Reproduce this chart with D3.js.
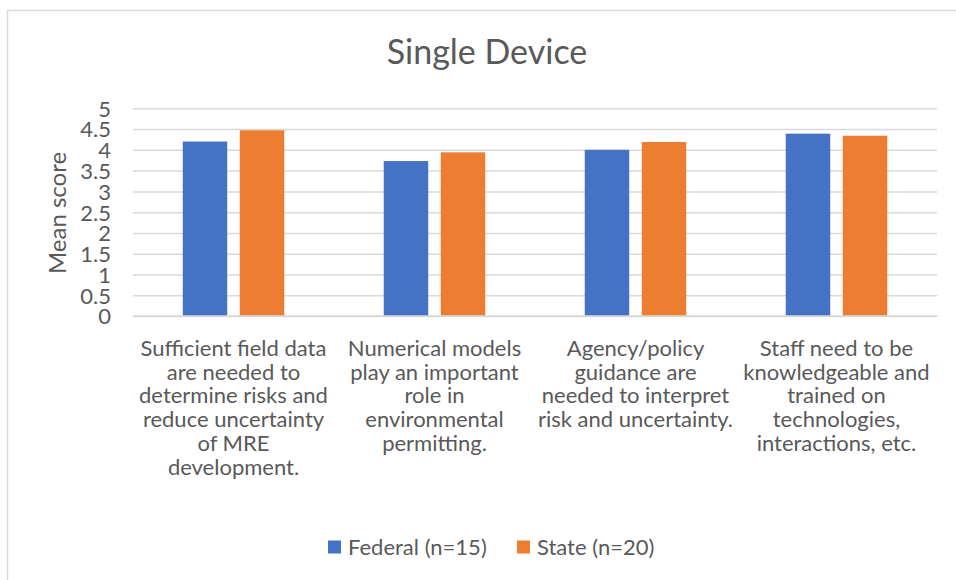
<!DOCTYPE html>
<html>
<head>
<meta charset="utf-8">
<script src="https://cdn.jsdelivr.net/npm/d3@7"></script>
<style>
  html, body { margin: 0; padding: 0; background: #fff; }
  svg { display: block; font-family: Lato, "Open Sans", sans-serif; }
</style>
</head>
<body>
<svg id="chart" width="956" height="580"></svg>
<script>
// ---- data ----
const title = "Single Device";
const yAxisTitle = "Mean score";
const categories = [
  "Sufficient field data\nare needed to\ndetermine risks and\nreduce uncertainty\nof MRE\ndevelopment.",
  "Numerical models\nplay an important\nrole in\nenvironmental\npermitting.",
  "Agency/policy\nguidance are\nneeded to interpret\nrisk and uncertainty.",
  "Staff need to be\nknowledgeable and\ntrained on\ntechnologies,\ninteractions, etc."
];
const seriesNames = ["Federal (n=15)", "State (n=20)"];
const federalValues = [4.2, 3.73, 4.0, 4.39];
const stateValues = [4.47, 3.94, 4.19, 4.34];
const yTicks = [0, 0.5, 1, 1.5, 2, 2.5, 3, 3.5, 4, 4.5, 5];
const seriesColors = ["#4472C4", "#ED7D31"];

// ---- layout ----
const W = 956, H = 580;
const plot = { left: 133, right: 937, top: 108.3, bottom: 316 };
const textColor = "#595959";
const gridColor = "#d9d9d9";
const fontSize = 22;

const svg = d3.select("#chart");

// chart border (extends beyond the visible frame on right/bottom)
svg.append("rect")
  .attr("x", 7.5).attr("y", 10.5)
  .attr("width", W + 20).attr("height", H + 20)
  .attr("fill", "#fff").attr("stroke", gridColor).attr("stroke-width", 1.5);

const x0 = d3.scaleBand().domain(categories).range([plot.left, plot.right]).padding(0);
const groupW = 101.5;
const x1 = d3.scaleBand().domain(seriesNames)
  .range([(x0.bandwidth() - groupW) / 2, (x0.bandwidth() + groupW) / 2])
  .paddingInner(0.22).paddingOuter(0);
const y = d3.scaleLinear().domain([0, 5]).range([plot.bottom, plot.top]);

// gridlines + tick labels
const yAxis = d3.axisLeft(y).tickValues(yTicks).tickSize(-(plot.right - plot.left)).tickPadding(22)
  .tickFormat(d => String(d));
const gy = svg.append("g").attr("transform", `translate(${plot.left},0)`).call(yAxis);
gy.select(".domain").remove();
gy.selectAll(".tick line").attr("stroke", gridColor).attr("stroke-width", 1.5);
gy.selectAll(".tick text").attr("fill", textColor).attr("font-size", fontSize)
  .attr("font-family", "Lato, sans-serif").attr("dy", "0.36em");

// bars
const rows = categories.map((c, i) => ({ cat: c, vals: [federalValues[i], stateValues[i]] }));
const groups = svg.append("g").selectAll("g").data(rows).join("g")
  .attr("transform", d => `translate(${x0(d.cat)},0)`);
groups.selectAll("rect")
  .data(d => d.vals.map((v, j) => ({ name: seriesNames[j], v, j })))
  .join("rect")
  .attr("x", d => x1(d.name))
  .attr("width", x1.bandwidth())
  .attr("y", d => y(d.v))
  .attr("height", d => y(0) - y(d.v))
  .attr("fill", d => seriesColors[d.j]);

// x axis baseline
svg.append("line").attr("x1", plot.left).attr("x2", plot.right)
  .attr("y1", y(0)).attr("y2", y(0)).attr("stroke", gridColor).attr("stroke-width", 1.5);

// category labels
const xAxis = d3.axisBottom(x0).tickSize(0).tickFormat("");
const gx = svg.append("g").attr("transform", `translate(0,${plot.bottom})`).call(xAxis);
gx.select(".domain").remove();
gx.selectAll(".tick").each(function(d) {
  const lines = d.split("\n");
  const t = d3.select(this).append("text")
    .attr("text-anchor", "middle").attr("fill", textColor)
    .attr("font-size", fontSize).attr("font-family", "Lato, sans-serif");
  lines.forEach((ln, i) => {
    t.append("tspan").attr("x", 0).attr("y", 40 + i * 23.7).text(ln);
  });
});

// title
svg.append("text").attr("x", 487).attr("y", 64).attr("text-anchor", "middle")
  .attr("fill", textColor).attr("font-size", 34).text(title);

// y axis title
svg.append("text").attr("transform", `translate(66,213) rotate(-90)`)
  .attr("text-anchor", "middle").attr("fill", textColor).attr("font-size", 24)
  .text(yAxisTitle);

// legend
const legend = svg.append("g");
const legendX = [328, 517];
seriesNames.forEach((n, i) => {
  legend.append("rect").attr("x", legendX[i]).attr("y", 540.5).attr("width", 13).attr("height", 13)
    .attr("fill", seriesColors[i]);
  legend.append("text").attr("x", legendX[i] + 20).attr("y", 555)
    .attr("fill", textColor).attr("font-size", fontSize).text(n);
});
</script>
</body>
</html>
